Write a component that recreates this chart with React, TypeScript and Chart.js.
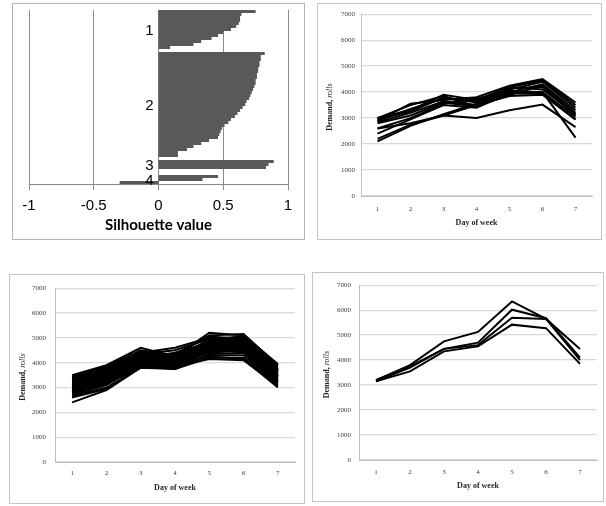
import React, { useEffect, useRef } from 'react';
import { Chart, registerables } from 'chart.js';
Chart.register(...registerables);

// ---------- Data ----------
const days = ['1', '2', '3', '4', '5', '6', '7'];
const demandTickStep = 1000;
const demandMax = 7000;

const silhouetteMin = -1;
const silhouetteMax = 1;
const silhouetteStep = 0.5;
const clusterNames = ['1', '2', '3', '4'];
const cluster1 = [0.75, 0.64, 0.63, 0.63, 0.62, 0.6, 0.56, 0.5, 0.46, 0.41, 0.33, 0.27, 0.09];
const cluster2 = [
  0.82, 0.79, 0.79, 0.78, 0.78, 0.77, 0.77, 0.76, 0.76, 0.75, 0.75, 0.74, 0.73, 0.72, 0.71, 0.7, 0.68, 0.67,
  0.65, 0.63, 0.61, 0.59, 0.56, 0.54, 0.51, 0.49, 0.48, 0.47, 0.46, 0.39, 0.33, 0.27, 0.22, 0.15, 0.15,
];
const cluster3 = [0.89, 0.85, 0.83];
const cluster4 = [0.46, 0.34, -0.3];
const gapRows = [1, 1, 2];

// top-right panel
const groupA = [
  [2900, 3550, 3700, 3800, 4250, 4500, 3600],
  [3000, 3300, 3900, 3700, 4200, 4450, 3500],
  [2950, 3250, 3800, 3600, 4100, 4400, 3400],
  [2850, 3200, 3650, 3500, 4000, 4300, 3300],
  [2800, 3100, 3600, 3450, 3900, 4250, 3200],
  [2900, 3350, 3750, 3650, 4200, 4100, 3150],
  [2600, 3000, 3550, 3750, 4050, 4000, 3050],
  [2400, 2950, 3500, 3400, 3950, 3950, 2950],
  [2200, 2750, 3100, 3500, 3850, 3900, 2950],
  [2100, 2700, 3150, 3550, 4000, 4000, 2250],
  [2600, 2800, 3100, 3000, 3300, 3520, 2650],
  [3000, 3500, 3850, 3450, 4150, 4200, 3100],
];

// bottom-left panel
const groupB = [
  [3500, 3900, 4600, 4250, 5200, 5100, 3950],
  [3450, 3850, 4500, 4300, 5100, 5150, 3900],
  [3400, 3800, 4400, 4600, 5000, 4900, 3850],
  [3350, 3750, 4350, 4500, 4950, 5050, 3800],
  [3300, 3700, 4300, 4200, 4900, 4950, 3750],
  [3250, 3650, 4250, 4100, 4850, 5000, 3700],
  [3200, 3600, 4200, 4400, 4800, 4850, 3650],
  [3150, 3550, 4150, 4050, 4750, 4900, 3600],
  [3100, 3500, 4100, 4000, 4700, 4800, 3550],
  [3050, 3450, 4050, 4150, 4650, 4750, 3500],
  [3000, 3400, 4000, 3950, 4600, 4700, 3450],
  [2950, 3350, 3950, 3900, 4550, 4650, 3400],
  [2900, 3300, 3900, 3850, 4500, 4600, 3350],
  [2850, 3250, 3850, 3800, 4450, 4550, 3300],
  [2800, 3200, 3800, 4000, 4400, 4500, 3250],
  [2750, 3150, 3850, 3750, 4350, 4400, 3200],
  [2700, 3100, 3900, 3800, 4300, 4300, 3150],
  [2650, 3000, 3800, 3750, 4200, 4200, 3100],
  [2600, 2950, 3850, 3850, 4150, 4100, 3050],
  [2400, 2900, 3800, 3900, 4250, 4150, 3000],
  [3300, 3850, 4300, 4350, 5050, 4950, 3850],
  [3200, 3650, 4450, 4250, 4900, 5050, 3700],
  [3100, 3700, 4250, 4200, 4800, 4700, 3600],
  [3000, 3500, 4200, 4100, 4750, 4600, 3500],
  [2900, 3400, 4100, 3950, 4650, 4800, 3400],
  [2800, 3300, 4000, 4050, 4600, 4500, 3300],
  [3350, 3600, 4350, 4150, 4700, 5000, 3750],
  [2700, 3250, 3950, 4100, 4500, 4450, 3200],
  [3050, 3550, 4250, 4300, 4850, 4850, 3650],
  [2850, 3450, 4150, 4000, 4550, 4700, 3450],
];

// bottom-right panel
const groupC = [
  [3200, 3800, 4750, 5130, 6350, 5650, 4450],
  [3200, 3750, 4450, 4700, 6020, 5680, 4100],
  [3150, 3700, 4450, 4600, 5700, 5650, 4000],
  [3150, 3550, 4350, 4550, 5420, 5280, 3850],
];

// ---------- Silhouette shapes (one stepped outline per cluster, row units) ----------
const clusters = [cluster1, cluster2, cluster3, cluster4];
const clusterSpans: [number, number][] = [];
const clusterOutlines: { x: number; y: number }[][] = [];
let rowCursor = 0;
clusters.forEach((c, i) => {
  const start = rowCursor;
  const pts: { x: number; y: number }[] = [{ x: 0, y: start }];
  c.forEach((v, k) => {
    pts.push({ x: v, y: start + k });
    pts.push({ x: v, y: start + k + 1 });
  });
  pts.push({ x: 0, y: start + c.length });
  clusterOutlines.push(pts);
  rowCursor += c.length;
  clusterSpans.push([start, rowCursor]);
  if (i < gapRows.length) rowCursor += gapRows[i];
});
const totalRows = rowCursor;

const clusterLabelPlugin = {
  id: 'clusterLabels',
  afterDatasetsDraw(chart: any) {
    const { ctx, scales } = chart;
    const x0 = scales.x.getPixelForValue(0);
    ctx.save();
    ctx.font = '15px "Liberation Sans", Arial, sans-serif';
    ctx.fillStyle = '#000';
    ctx.textAlign = 'right';
    ctx.textBaseline = 'middle';
    clusterSpans.forEach(([s, e], i) => {
      const yc = scales.y.getPixelForValue((s + e) / 2);
      ctx.fillText(clusterNames[i], x0 - 5, yc + 1);
    });
    ctx.restore();
  },
};

function silhouetteConfig(): any {
  return {
    type: 'scatter',
    data: {
      datasets: clusterOutlines.map((pts) => ({
        data: pts,
        showLine: true,
        fill: 'shape',
        backgroundColor: '#595959',
        borderColor: '#595959',
        borderWidth: 0,
        pointRadius: 0,
        tension: 0,
      })),
    },
    options: {
      animation: false,
      responsive: false,
      layout: { padding: { left: 16, right: 16, top: 6, bottom: 0 } },
      plugins: { legend: { display: false }, tooltip: { enabled: false } },
      scales: {
        x: {
          type: 'linear',
          min: silhouetteMin,
          max: silhouetteMax,
          ticks: {
            stepSize: silhouetteStep,
            font: { family: '"Liberation Sans", Arial, sans-serif', size: 15 },
            color: '#000',
            padding: 7,
            callback: (v: any) => String(v),
          },
          grid: { color: '#8a8a8a', tickLength: 6, drawTicks: true, tickColor: '#8a8a8a' },
          border: { display: true, color: '#8a8a8a' },
          title: {
            display: true,
            text: 'Silhouette value',
            font: { family: 'Lato, "Open Sans", sans-serif', size: 15, weight: 'bold' },
            color: '#000',
            padding: { top: 0, bottom: 5 },
          },
          afterFit: (s: any) => {
            s.height = 55;
          },
        },
        y: { type: 'linear', min: 0, max: totalRows, reverse: true, display: false, grid: { display: false } },
      },
    },
    plugins: [clusterLabelPlugin],
  };
}

function yTitlePlugin(offset: number) {
  return {
    id: 'mixedYTitle',
    afterDraw(chart: any) {
      const { ctx, chartArea } = chart;
      const bold = 'bold 8px "Liberation Serif", "Times New Roman", serif';
      const ital = 'italic 8px "Liberation Serif", "Times New Roman", serif';
      const a = 'Demand, ';
      const b = 'rolls';
      ctx.save();
      ctx.font = bold;
      const wa = ctx.measureText(a).width;
      ctx.font = ital;
      const wb = ctx.measureText(b).width;
      ctx.translate(chartArea.left - offset, (chartArea.top + chartArea.bottom) / 2 + 2);
      ctx.rotate(-Math.PI / 2);
      ctx.textBaseline = 'middle';
      ctx.textAlign = 'left';
      ctx.fillStyle = '#262626';
      const start = -(wa + wb) / 2;
      ctx.font = bold;
      ctx.fillText(a, start, 0);
      ctx.font = ital;
      ctx.fillText(b, start + wa, 0);
      ctx.restore();
    },
  };
}

type LineParams = {
  right: number;
  top: number;
  xAxisH: number;
  yAxisW: number;
  xTickPad: number;
  yTickPad: number;
  titlePad: number;
  titleOffset: number;
};

function lineConfig(lines: number[][], p: LineParams): any {
  const tickFont = { family: '"Liberation Serif", "Times New Roman", serif', size: 7 };
  return {
    type: 'line',
    data: {
      labels: days,
      datasets: lines.map((d) => ({
        data: d,
        borderColor: '#000',
        borderWidth: 2,
        pointRadius: 0,
        fill: false,
        tension: 0,
      })),
    },
    options: {
      animation: false,
      responsive: false,
      layout: { padding: { left: 0, right: p.right, top: p.top, bottom: 0 } },
      plugins: { legend: { display: false }, tooltip: { enabled: false } },
      scales: {
        x: {
          type: 'category',
          offset: true,
          grid: { display: false, drawTicks: false },
          border: { display: true, color: '#bfbfbf', width: 1 },
          ticks: { font: tickFont, color: '#404040', padding: p.xTickPad },
          title: {
            display: true,
            text: 'Day of week',
            font: { family: '"Liberation Serif", "Times New Roman", serif', size: 8, weight: 'bold' },
            color: '#262626',
            padding: { top: 0, bottom: p.titlePad },
          },
          afterFit: (s: any) => {
            s.height = p.xAxisH;
          },
        },
        y: {
          min: 0,
          max: demandMax,
          ticks: {
            stepSize: demandTickStep,
            font: tickFont,
            color: '#404040',
            padding: p.yTickPad,
            callback: (v: any) => String(v),
          },
          grid: { color: '#d9d9d9', drawTicks: false, lineWidth: 1.3 },
          border: { display: true, color: '#bfbfbf' },
          afterFit: (s: any) => {
            s.width = p.yAxisW;
          },
        },
      },
    },
    plugins: [yTitlePlugin(p.titleOffset)],
  };
}

function Panel(props: { left: number; top: number; width: number; height: number; config: () => any; borderColor?: string }) {
  const ref = useRef<HTMLCanvasElement | null>(null);
  const w = props.width - 2;
  const h = props.height - 2;
  useEffect(() => {
    if (!ref.current) return;
    const chart = new Chart(ref.current, props.config());
    return () => chart.destroy();
  }, []);
  return (
    <div
      style={{
        position: 'absolute',
        left: props.left,
        top: props.top,
        width: props.width,
        height: props.height,
        boxSizing: 'border-box',
        border: `1px solid ${props.borderColor || '#c4c4c4'}`,
        background: '#fff',
      }}
    >
      <canvas ref={ref} width={w} height={h} style={{ display: 'block', width: w, height: h }} />
    </div>
  );
}

export default function App() {
  return (
    <div style={{ position: 'absolute', left: 0, top: 0, width: 606, height: 506, background: '#fff' }}>
      <Panel left={12} top={3} width={293} height={237} config={silhouetteConfig} borderColor="#b4b4b4" />
      <Panel
        left={317}
        top={3}
        width={285}
        height={237}
        config={() =>
          lineConfig(groupA, { right: 9, top: 8, xAxisH: 43, yAxisW: 43, xTickPad: 9, yTickPad: 6, titlePad: 11, titleOffset: 31 })
        }
      />
      <Panel
        left={9}
        top={274}
        width={296}
        height={230}
        config={() =>
          lineConfig(groupB, { right: 9, top: 7, xAxisH: 41, yAxisW: 45, xTickPad: 7, yTickPad: 9, titlePad: 10, titleOffset: 32 })
        }
      />
      <Panel
        left={312}
        top={272}
        width={292}
        height={230}
        config={() =>
          lineConfig(groupC, { right: 6, top: 9, xAxisH: 41, yAxisW: 46, xTickPad: 8, yTickPad: 8, titlePad: 10, titleOffset: 32 })
        }
      />
    </div>
  );
}
